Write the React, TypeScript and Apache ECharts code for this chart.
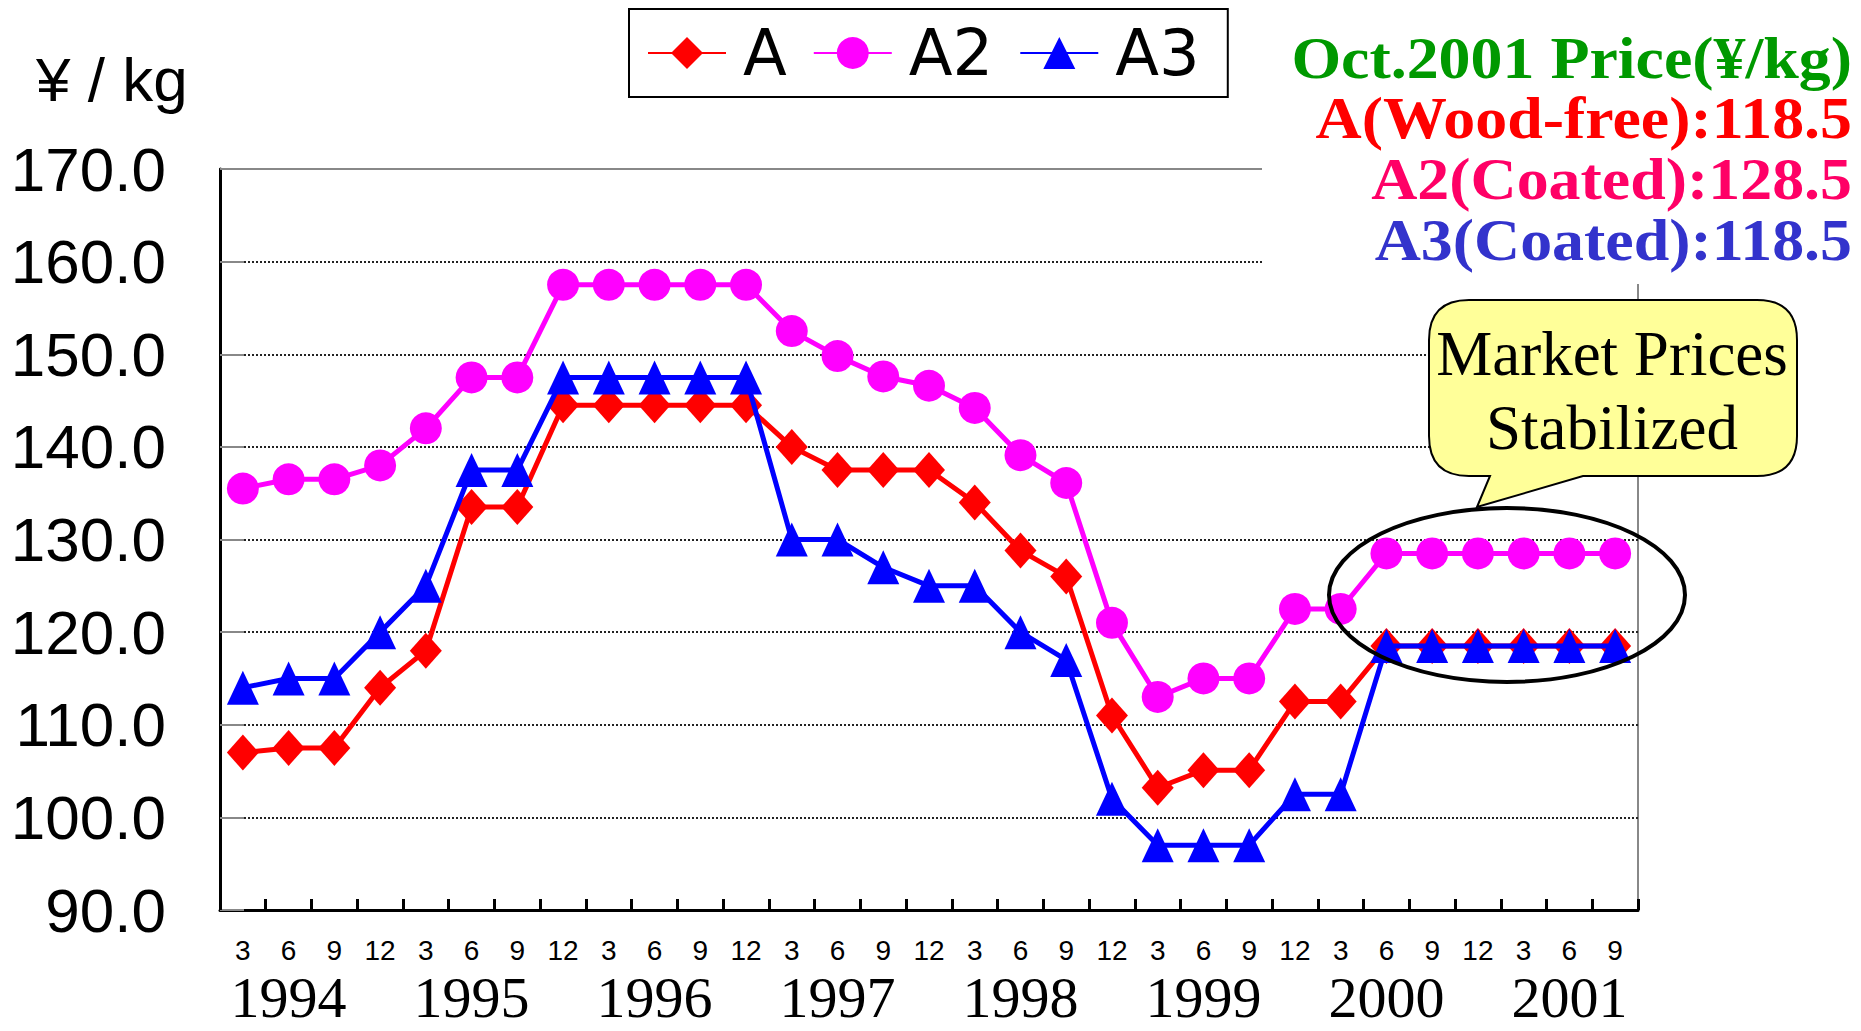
import { useEffect, useRef } from 'react';
import * as echarts from 'echarts';

const monthLabels = ['3', '6', '9', '12', '3', '6', '9', '12', '3', '6', '9', '12', '3', '6', '9', '12', '3', '6', '9', '12', '3', '6', '9', '12', '3', '6', '9', '12', '3', '6', '9'];
const yearLabels = ['1994', '1995', '1996', '1997', '1998', '1999', '2000', '2001'];
const seriesNames = ['A', 'A2', 'A3'];

const valuesA = [107, 107.5, 107.5, 114, 118, 133.5, 133.5, 144.5, 144.5, 144.5, 144.5, 144.5, 140, 137.5, 137.5, 137.5, 134, 128.8, 126, 111, 103.2, 105.1, 105.1, 112.5, 112.5, 118.5, 118.5, 118.5, 118.5, 118.5, 118.5];
const valuesA2 = [135.5, 136.5, 136.5, 138, 142, 147.5, 147.5, 157.5, 157.5, 157.5, 157.5, 157.5, 152.5, 149.8, 147.6, 146.6, 144.2, 139.1, 136.1, 121, 113, 115, 115, 122.5, 122.5, 128.5, 128.5, 128.5, 128.5, 128.5, 128.5];
const valuesA3 = [114, 115, 115, 120, 125, 137.5, 137.5, 147.5, 147.5, 147.5, 147.5, 147.5, 130, 130, 127, 125, 125, 120, 117, 102, 97, 97, 97, 102.5, 102.5, 118.5, 118.5, 118.5, 118.5, 118.5, 118.5];

const yMin = 90;
const yMax = 170;
const yInterval = 10;

const unitLabel = '¥ / kg';
const noteLines = ['Oct.2001 Price(¥/kg)', 'A(Wood-free):118.5', 'A2(Coated):128.5', 'A3(Coated):118.5'];
const noteColors = ['#009900', '#ff0000', '#ff0066', '#3333cc'];
const balloonLines = ['Market Prices', 'Stabilized'];

const balloonPath =
  'M1469 300 L1757 300 Q1797 300 1797 340 L1797 436 Q1797 476 1757 476 L1583 476 L1477 507 L1490 476 L1469 476 Q1429 476 1429 436 L1429 340 Q1429 300 1469 300 Z';

let registered = false;
function ensureShapes() {
  if (registered) return;
  registered = true;
  echarts.graphic.registerShape('balloon', echarts.graphic.extendPath(balloonPath, {}));
}

export default function App() {
  const ref = useRef<HTMLDivElement>(null);

  useEffect(() => {
    ensureShapes();
    const chart = echarts.init(ref.current!, null, { renderer: 'svg' });
    const yearSlots = monthLabels.map((_, i) => (i % 4 === 1 ? yearLabels[(i - 1) / 4] : ''));
    const noteY = [58, 118, 179, 240];
    const balloonY = [354, 428];

    const option: any = {
      animation: false,
      backgroundColor: '#ffffff',
      grid: {
        left: 220,
        right: 223,
        top: 169,
        bottom: 121,
        show: true,
        borderColor: '#888888',
        borderWidth: 2,
        backgroundColor: 'transparent',
        containLabel: false,
        outerBoundsMode: 'none',
      },
      legend: {
        data: seriesNames,
        left: 629,
        top: 9,
        orient: 'horizontal',
        padding: [12, 28, 12, 18],
        itemGap: 26,
        itemWidth: 78,
        itemHeight: 40,
        borderColor: '#000000',
        borderWidth: 2,
        backgroundColor: '#ffffff',
        textStyle: {
          fontSize: 64,
          fontFamily: 'DejaVu Sans',
          color: '#000000',
          padding: [0, 0, 0, 12],
        },
      },
      xAxis: [
        {
          type: 'category',
          data: monthLabels,
          boundaryGap: true,
          position: 'bottom',
          axisLine: { show: true, lineStyle: { color: '#000000', width: 3 } },
          axisTick: { show: true, inside: true, length: 11, lineStyle: { color: '#000000', width: 3 } },
          axisLabel: {
            interval: 0,
            margin: 26,
            fontSize: 28,
            fontFamily: 'Liberation Sans',
            color: '#000000',
          },
          splitLine: { show: false },
        },
        {
          type: 'category',
          data: yearSlots,
          boundaryGap: true,
          position: 'bottom',
          offset: 0,
          axisLine: { show: false },
          axisTick: { show: false },
          axisLabel: {
            interval: 0,
            margin: 58,
            fontSize: 58,
            fontFamily: 'Liberation Serif',
            color: '#000000',
          },
          splitLine: { show: false },
        },
      ],
      yAxis: {
        type: 'value',
        min: yMin,
        max: yMax,
        interval: yInterval,
        axisLine: { show: true, lineStyle: { color: '#000000', width: 3 } },
        axisTick: { show: true, inside: true, length: 24, lineStyle: { color: '#888888', width: 2 } },
        axisLabel: {
          margin: 54,
          fontSize: 62,
          fontFamily: 'Liberation Sans',
          color: '#000000',
          padding: [26, 0, 0, 0],
          formatter: (v: number) => v.toFixed(1),
        },
        splitLine: {
          show: true,
          showMinLine: false,
          showMaxLine: false,
          lineStyle: { color: '#222222', type: 'dotted', width: 2 },
        },
      },
      series: [
        {
          name: seriesNames[0],
          type: 'line',
          data: valuesA,
          symbol: 'diamond',
          symbolSize: [32, 36],
          lineStyle: { color: '#ff0000', width: 5 },
          itemStyle: { color: '#ff0000' },
          z: 3,
        },
        {
          name: seriesNames[1],
          type: 'line',
          data: valuesA2,
          symbol: 'circle',
          symbolSize: 32,
          lineStyle: { color: '#ff00ff', width: 5 },
          itemStyle: { color: '#ff00ff' },
          z: 3,
        },
        {
          name: seriesNames[2],
          type: 'line',
          data: valuesA3,
          symbol: 'triangle',
          symbolSize: [32, 34],
          lineStyle: { color: '#0000ff', width: 5 },
          itemStyle: { color: '#0000ff' },
          z: 4,
        },
      ],
      graphic: {
        elements: [
          {
            type: 'rect',
            z: 100,
            shape: { x: 1262, y: 0, width: 600, height: 284 },
            style: { fill: '#ffffff' },
          },
          ...noteLines.map((t, i) => ({
            type: 'text',
            z: 101,
            x: 1852,
            y: noteY[i],
            scaleX: 1.065,
            style: {
              text: t,
              fill: noteColors[i],
              font: 'bold 60px "Liberation Serif"',
              align: 'right',
              verticalAlign: 'middle',
            },
          })),
          {
            type: 'text',
            z: 101,
            x: 36,
            y: 79.5,
            style: {
              text: unitLabel,
              fill: '#000000',
              font: '62px "Liberation Sans"',
              align: 'left',
              verticalAlign: 'middle',
            },
          },
          {
            type: 'balloon',
            z: 100,
            x: 0,
            y: 0,
            style: { fill: '#ffff99', stroke: '#000000', lineWidth: 2 },
          },
          ...balloonLines.map((t, i) => ({
            type: 'text',
            z: 101,
            x: 1612,
            y: balloonY[i],
            style: {
              text: t,
              fill: '#000000',
              font: '63px "Liberation Serif"',
              align: 'center',
              verticalAlign: 'middle',
            },
          })),
          {
            type: 'ellipse',
            z: 100,
            shape: { cx: 1507, cy: 595, rx: 178, ry: 87 },
            style: { fill: 'none', stroke: '#000000', lineWidth: 4 },
          },
        ],
      },
    };

    chart.setOption(option);
    return () => {
      chart.dispose();
    };
  }, []);

  return (
    <div
      ref={ref}
      style={{ position: 'fixed', left: 0, top: 0, width: 1861, height: 1031, background: '#ffffff' }}
    />
  );
}
